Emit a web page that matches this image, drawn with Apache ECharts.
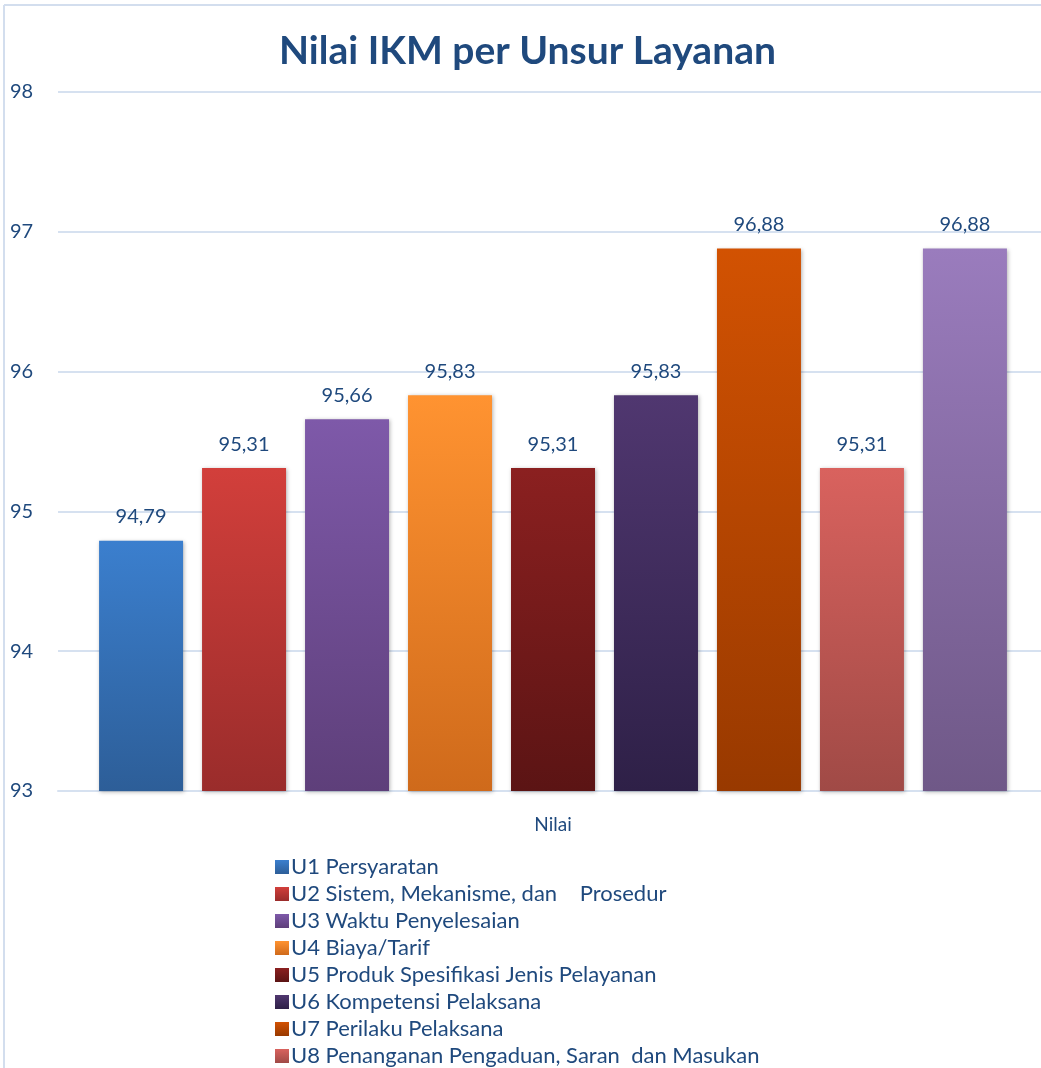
<!DOCTYPE html>
<html>
<head>
<meta charset="utf-8">
<script src="https://cdn.jsdelivr.net/npm/echarts@6/dist/echarts.min.js"></script>
<style>
html,body{margin:0;padding:0;background:#fff;overflow:hidden;}
#c{width:1055px;height:1068px;}
</style>
</head>
<body>
<div id="c"></div>
<script>
const categories = ['Nilai'];
const seriesNames = [
  'U1 Persyaratan',
  'U2 Sistem, Mekanisme, dan    Prosedur',
  'U3 Waktu Penyelesaian',
  'U4 Biaya/Tarif',
  'U5 Produk Spesifikasi Jenis Pelayanan',
  'U6 Kompetensi Pelaksana',
  'U7 Perilaku Pelaksana',
  'U8 Penanganan Pengaduan, Saran  dan Masukan',
  'U9 Penanganan Pengaduan'
];
const values = [94.79, 95.31, 95.66, 95.83, 95.31, 95.83, 96.88, 95.31, 96.88];
const colorTop = ['#3b7fce', '#d23f3b', '#7e59a9', '#ff9331', '#8b2020', '#503770', '#d25202', '#d9625e', '#9a7cbd'];
const colorBottom = ['#2d5e98', '#9a2c2b', '#5e3f7a', '#cf6a1b', '#5b1414', '#2e2047', '#983900', '#a04a46', '#6f5887'];
const yTicks = [93, 94, 95, 96, 97, 98];

const textColor = '#1f497d';
const font = 'Lato, "Open Sans", sans-serif';

const series = seriesNames.map((n, i) => ({
  name: n,
  type: 'bar',
  data: [values[i]],
  barWidth: 84,
  barGap: '22.6%',
  itemStyle: {
    color: new echarts.graphic.LinearGradient(0, 0, 0, 1, [
      {offset: 0, color: colorTop[i]},
      {offset: 1, color: colorBottom[i]}
    ]),
    shadowBlur: 4,
    shadowColor: 'rgba(0,0,0,0.3)',
    shadowOffsetX: 1,
    shadowOffsetY: 1
  },
  label: {
    show: true,
    position: 'top',
    distance: 14,
    color: textColor,
    fontFamily: font,
    fontSize: 20,
    formatter: p => p.value.toFixed(2).replace('.', ',')
  }
}));

const chart = echarts.init(document.getElementById('c'), null, {renderer: 'canvas'});
chart.setOption({
  animation: false,
  backgroundColor: '#fff',
  color: colorTop,
  title: {
    text: 'Nilai IKM per Unsur Layanan',
    left: 'center',
    top: 27,
    textStyle: {color: textColor, fontFamily: font, fontWeight: 'bold', fontSize: 39}
  },
  graphic: [
    {type: 'line', shape: {x1: 4, y1: 5, x2: 4, y2: 1068}, style: {stroke: '#d3deee', lineWidth: 2}},
    {type: 'line', shape: {x1: 4, y1: 5, x2: 1055, y2: 5}, style: {stroke: '#d3deee', lineWidth: 2}}
  ],
  grid: {left: 58, right: 7, top: 92, height: 699, containLabel: false},
  xAxis: {
    type: 'category',
    data: categories,
    axisLine: {show: true, lineStyle: {color: '#d6e1f0', width: 2}},
    axisTick: {show: false},
    axisLabel: {color: textColor, fontFamily: font, fontSize: 19, margin: 24}
  },
  yAxis: {
    type: 'value',
    min: yTicks[0],
    max: yTicks[yTicks.length - 1],
    interval: 1,
    axisLine: {show: false},
    axisTick: {show: false},
    splitLine: {lineStyle: {color: '#d6e1f0', width: 2}},
    axisLabel: {color: textColor, fontFamily: font, fontSize: 20, align: 'left', margin: 48}
  },
  legend: {
    orient: 'vertical',
    left: 270,
    top: 851,
    height: 600,
    itemWidth: 14,
    itemHeight: 14,
    itemGap: 5,
    icon: 'rect',
    textStyle: {color: textColor, fontFamily: font, fontSize: 22, padding: [0, 0, 0, -3]},
    data: seriesNames
  },
  series: series
});
</script>
</body>
</html>
